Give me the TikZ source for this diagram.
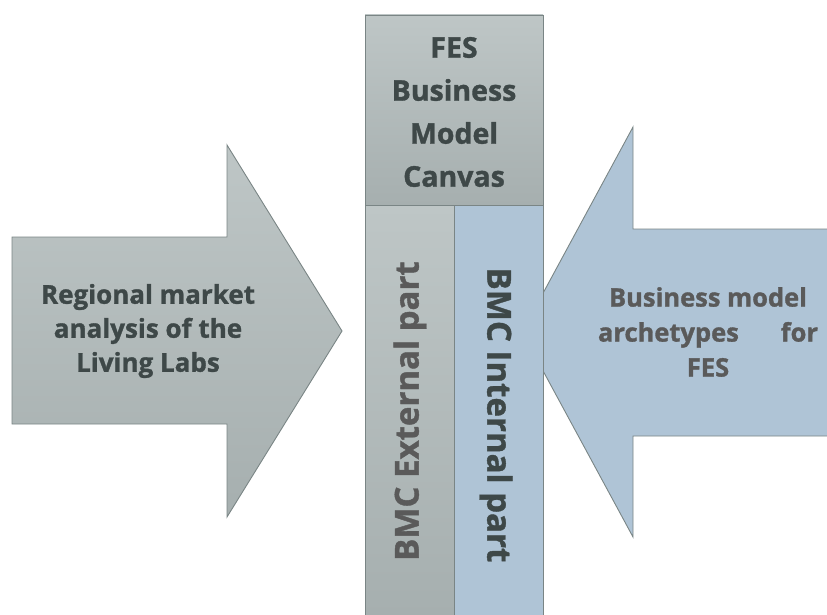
\documentclass[tikz,border=0pt]{standalone}
\usepackage{fontspec}
\setmainfont{Open Sans}[BoldFeatures={FakeBold=1.2}]
\definecolor{grayTop}{HTML}{BEC6C6}
\definecolor{grayBot}{HTML}{A6AFAF}
\definecolor{blueF}{HTML}{AFC4D6}
\definecolor{edge}{HTML}{7A8585}
\definecolor{darkTxt}{HTML}{3E4848}
\definecolor{midTxt}{HTML}{5A5A5A}
\tikzset{
  outline/.style={draw=edge, line width=0.9pt, line join=miter},
  graybox/.style={top color=grayTop, bottom color=grayBot},
  lbl/.style={font=\bfseries\fontsize{26}{34}\selectfont, align=center, inner sep=0pt},
  vlbl/.style={font=\bfseries\fontsize{33}{36}\selectfont, inner sep=0pt},
}
\begin{document}
\begin{tikzpicture}[x=1pt,y=-1pt]
\useasboundingbox (0,0) rectangle (827,615);
% right arrow (behind the column)
\fill[blueF] (828,229) -- (633,229) -- (633,127) -- (522,332) -- (633,537) -- (633,436) -- (828,436) -- cycle;
\draw[outline] (828,229) -- (633,229) -- (633,127) -- (522,332) -- (633,537) -- (633,436) -- (828,436);
% left arrow
\shade[graybox] (12,237) -- (227,237) -- (227,145) -- (342,331) -- (227,517) -- (227,424) -- (12,424) -- cycle;
\draw[outline] (12,237) -- (227,237) -- (227,145) -- (342,331) -- (227,517) -- (227,424) -- (12,424) -- cycle;
% column
\shade[graybox, outline] (365,15) rectangle (543,205);
\shade[graybox, outline] (365,205) rectangle (454,616);
\fill[blueF] (454,205) rectangle (543,616);
\draw[outline] (454,205) rectangle (543,616);
% labels
\node[lbl, text=darkTxt, font=\bfseries\fontsize{28.5}{43}\selectfont] (fes) at (454,112) {FES\\Business\\Model\\Canvas};
\node[lbl, text=darkTxt] (reg) at (148,331) {Regional market\\analysis of the\\Living Labs};
\node[lbl, text=midTxt, align=center, font=\bfseries\fontsize{25.5}{35}\selectfont] (arch) at (708,332) {Business model\\\makebox[220pt]{archetypes\hfill for}\\FES};
\node[vlbl, text=midTxt, rotate=90] (ext) at (410,411) {BMC External part};
\node[vlbl, text=darkTxt, rotate=-90] (int) at (496,415) {BMC Internal part};
\end{tikzpicture}
\end{document}
